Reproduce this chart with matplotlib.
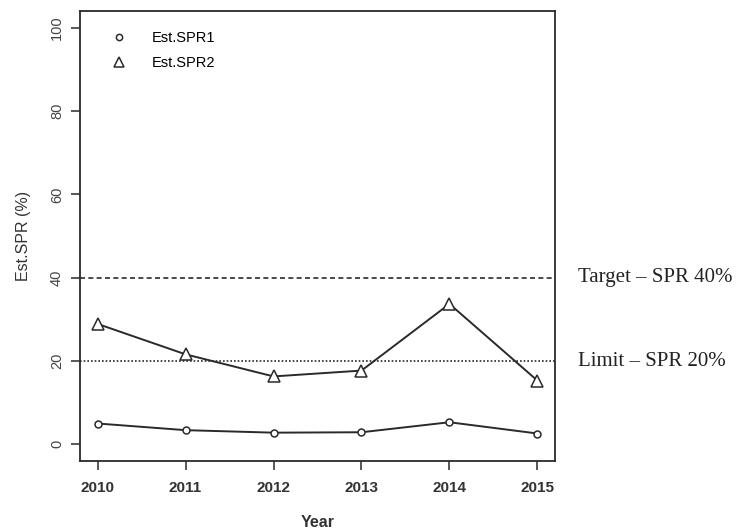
import matplotlib
matplotlib.use("Agg")
import matplotlib.pyplot as plt

years = [2010, 2011, 2012, 2013, 2014, 2015]
est_spr1 = [5.0, 3.4, 2.8, 2.9, 5.3, 2.6]
est_spr2 = [28.9, 21.6, 16.3, 17.7, 33.7, 15.3]
target_spr = 40
limit_spr = 20
y_ticks = [0, 20, 40, 60, 80, 100]

plt.rcParams['font.family'] = ['Liberation Sans', 'DejaVu Sans']

fig = plt.figure(figsize=(7.39, 5.30), dpi=100)
ax = fig.add_axes([80 / 739, 1 - 461 / 530, 475 / 739, 450 / 530])

ink = '#2a2a2a'
ax.plot(years, est_spr1, color=ink, lw=1.4, marker='o', ms=5, mfc='white',
        mec=ink, mew=1.1, label='Est.SPR1')
ax.plot(years, est_spr2, color=ink, lw=1.4, marker='^', ms=8, mfc='white',
        mec=ink, mew=1.1, label='Est.SPR2')

ax.axhline(target_spr, color=ink, lw=1.2, ls=(0, (3, 2)))
ax.axhline(limit_spr, color=ink, lw=1.2, ls=(0, (1, 1.2)))

ax.set_xlim(years[0] - 0.2, years[-1] + 0.2)
ax.set_ylim(-4, 104)
ax.set_xticks(years)
ax.set_yticks(y_ticks)
ax.set_yticklabels([str(t) for t in y_ticks], rotation=90, va='center')
ax.tick_params(axis='both', direction='out', length=6.5, width=1.1, colors=ink)
ax.tick_params(axis='x', labelsize=11, pad=8)
ax.tick_params(axis='y', labelsize=10.5, pad=5)
for lbl in ax.get_xticklabels():
    lbl.set_fontweight('bold')
    lbl.set_color('#333333')
for lbl in ax.get_yticklabels():
    lbl.set_color('#444444')
for sp in ax.spines.values():
    sp.set_linewidth(1.3)
    sp.set_color(ink)

ax.set_xlabel('Year', fontsize=11.5, fontweight='bold', color='#333333', labelpad=14)
ax.set_ylabel('Est.SPR (%)', fontsize=11.5, color='#333333', labelpad=14)

ax.legend(loc='upper left', bbox_to_anchor=(0.055, 0.985), frameon=False,
          fontsize=10.5, handlelength=0, handletextpad=2.2, labelspacing=0.75,
          markerscale=0.9)

trans = ax.get_yaxis_transform()
ax.text(1.048, target_spr, 'Target \u2013 SPR 40%', transform=trans,
        family=['Liberation Serif', 'DejaVu Serif'], fontsize=15,
        va='center', ha='left', color='#222222', clip_on=False)
ax.text(1.048, limit_spr, 'Limit \u2013 SPR 20%', transform=trans,
        family=['Liberation Serif', 'DejaVu Serif'], fontsize=15,
        va='center', ha='left', color='#222222', clip_on=False)

fig.savefig('out.png', dpi=100)
